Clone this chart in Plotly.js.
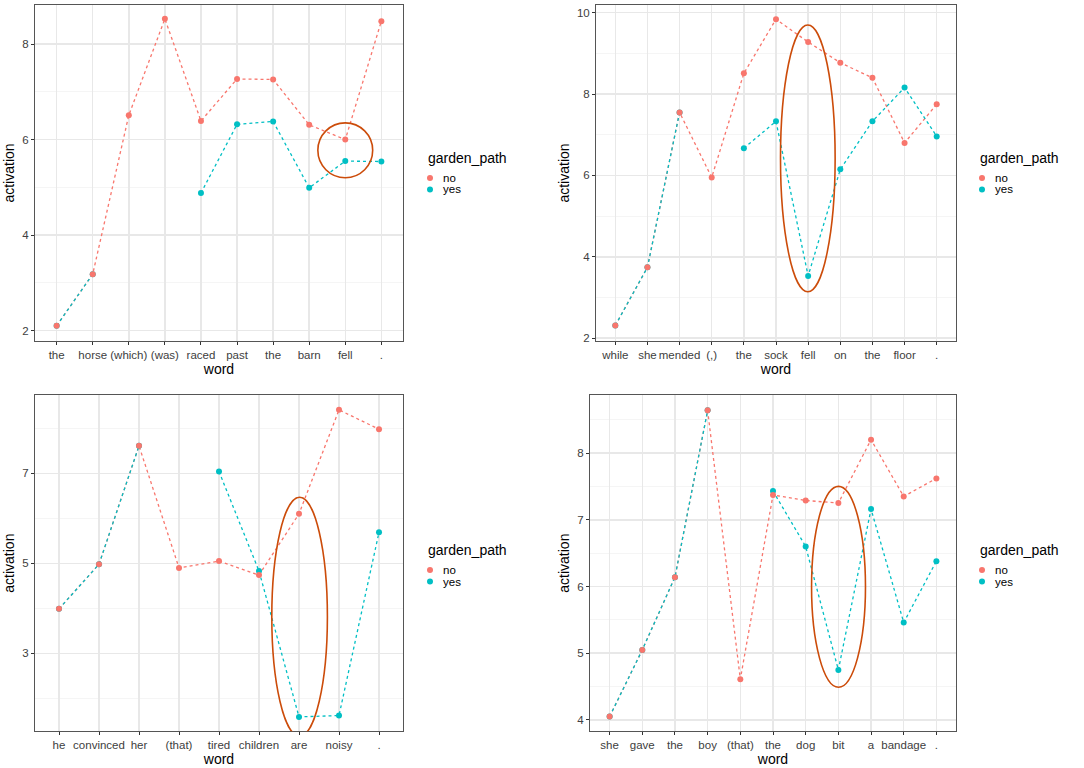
<!DOCTYPE html>
<html>
<head>
<meta charset="utf-8">
<script src="https://cdn.plot.ly/plotly-3.0.1.min.js"></script>
<style>
  html, body { margin: 0; padding: 0; background: #fff; }
  #chart { width: 1084px; height: 768px; }
</style>
</head>
<body>
<div id="chart"></div>
<script>
// sentence 1: the horse raced past the barn fell
const words1 = ["the", "horse", "(which)", "(was)", "raced", "past", "the", "barn", "fell", "."];
const no1  = [2.10, 3.18, 6.51, 8.53, 6.39, 7.27, 7.26, 6.31, 6.00, 8.48];
const yes1 = [2.10, 3.18, null, null, 4.88, 6.32, 6.38, 4.99, 5.55, 5.54];

// sentence 2: while she mended the sock fell on the floor
const words2 = ["while", "she", "mended", "(,)", "the", "sock", "fell", "on", "the", "floor", "."];
const no2  = [2.31, 3.74, 7.55, 5.95, 8.51, 9.84, 9.28, 8.77, 8.40, 6.80, 7.75];
const yes2 = [2.31, 3.74, 7.55, null, 6.67, 7.33, 3.53, 6.15, 7.33, 8.16, 6.96];

// sentence 3: he convinced her tired children are noisy
const words3 = ["he", "convinced", "her", "(that)", "tired", "children", "are", "noisy", "."];
const no3  = [3.99, 4.98, 7.61, 4.90, 5.05, 4.74, 6.10, 8.41, 7.98];
const yes3 = [3.99, 4.98, 7.61, null, 7.04, 4.83, 1.59, 1.62, 5.69];

// sentence 4: she gave the boy the dog bit a bandage
const words4 = ["she", "gave", "the", "boy", "(that)", "the", "dog", "bit", "a", "bandage", "."];
const no4  = [4.05, 5.05, 6.14, 8.64, 4.61, 7.37, 7.29, 7.25, 8.20, 7.35, 7.62];
const yes4 = [4.05, 5.05, 6.14, 8.64, null, 7.43, 6.60, 4.75, 7.16, 5.46, 6.38];

const groups = ["no", "yes"];

const RED = "#F8766D", TEAL = "#00BFC4", RING = "#CC4C0A";
const FONT = "Liberation Sans, Arial, sans-serif";

const panels = [
  { words: words1, no: no1, yes: yes1, xd: [35, 403], yd: [5, 341], yr: [1.78, 8.82], dt: 2, t0: 0,
    ring: [8.24, 9.76, 5.20, 6.35], leg: [426, 158] },
  { words: words2, no: no2, yes: yes2, xd: [596, 956], yd: [5, 341], yr: [1.93, 10.19], dt: 2, t0: 0,
    ring: [6.14, 7.84, 3.14, 9.70], leg: [978, 158] },
  { words: words3, no: no3, yes: yes3, xd: [35, 403], yd: [395, 731.3], yr: [1.27, 8.74], dt: 2, t0: 1,
    ring: [6.32, 7.71, 1.16, 6.47], leg: [426, 550] },
  { words: words4, no: no4, yes: yes4, xd: [590, 956], yd: [395, 731.3], yr: [3.83, 8.87], dt: 1, t0: 0,
    ring: [7.18, 8.83, 4.49, 7.50], leg: [978, 550] }
];

const W = 1084, H = 768;
const px = v => v / W, py = v => 1 - v / H;
const traces = [];
const layout = {
  width: W, height: H,
  margin: { l: 0, r: 0, t: 0, b: 0 },
  paper_bgcolor: "#fff", plot_bgcolor: "#fff",
  font: { family: FONT, color: "#000" },
  showlegend: false,
  shapes: [], annotations: []
};

panels.forEach((p, i) => {
  const n = i + 1;
  const sfx = n === 1 ? "" : String(n);
  const xa = "x" + sfx, ya = "y" + sfx;
  const xs = p.words.map((w, k) => k + 1);

  const line = (ys, c) => ({
    x: xs, y: ys, xaxis: xa, yaxis: ya, type: "scatter", mode: "lines",
    line: { color: c, width: 1.3, dash: "3px,3px" },
    connectgaps: false, hoverinfo: "skip"
  });
  const pts = (ys, c, name) => ({
    x: xs, y: ys, xaxis: xa, yaxis: ya, type: "scatter", mode: "markers",
    marker: { color: c, size: 6 }, name: name
  });
  traces.push(line(p.no, RED), line(p.yes, TEAL), pts(p.yes, TEAL, "yes"), pts(p.no, RED, "no"));

  layout["xaxis" + sfx] = {
    domain: [px(p.xd[0]), px(p.xd[1])], anchor: ya,
    range: [0.4, p.words.length + 0.6],
    tickmode: "array", tickvals: xs, ticktext: p.words,
    tickfont: { size: 11.5, color: "#404040" },
    ticks: "outside", ticklen: 3, tickcolor: "#333", tickwidth: 1,
    showgrid: true, gridcolor: "#E8E8E8", gridwidth: 1.5,
    showline: true, mirror: true, linecolor: "#555", linewidth: 1,
    zeroline: false, automargin: false,
    title: { text: "word", font: { size: 14 }, standoff: 2 }
  };
  layout["yaxis" + sfx] = {
    domain: [py(p.yd[1]), py(p.yd[0])], anchor: xa,
    range: p.yr, dtick: p.dt, tick0: p.t0,
    tickfont: { size: 11.5, color: "#404040" },
    ticks: "outside", ticklen: 3, tickcolor: "#333", tickwidth: 1,
    showgrid: true, gridcolor: "#E8E8E8", gridwidth: 1.5,
    minor: { dtick: p.dt / 2, tick0: p.t0, showgrid: true, gridcolor: "#F2F2F2", gridwidth: 0.8, ticks: "" },
    showline: true, mirror: true, linecolor: "#555", linewidth: 1,
    zeroline: false, automargin: false,
    title: { text: "activation", font: { size: 14 }, standoff: 4 }
  };

  // legend: title plus one key per group
  const [lx, ly] = p.leg;
  layout.annotations.push({
    xref: "paper", yref: "paper", x: px(lx), y: py(ly), xanchor: "left", yanchor: "middle",
    text: "garden_path", showarrow: false, font: { size: 14, color: "#000" }
  });
  groups.forEach((g, k) => {
    const ky = ly + 20 + k * 11.5;
    const c = g === "no" ? RED : TEAL;
    layout.shapes.push({
      type: "circle", xref: "paper", yref: "paper",
      x0: px(lx + 1), x1: px(lx + 7), y0: py(ky + 3), y1: py(ky - 3),
      fillcolor: c, line: { width: 0 }
    });
    layout.annotations.push({
      xref: "paper", yref: "paper", x: px(lx + 15), y: py(ky), xanchor: "left", yanchor: "middle",
      text: g, showarrow: false, font: { size: 11.5, color: "#000" }
    });
  });

  layout.shapes.push({
    type: "circle", xref: xa, yref: ya,
    x0: p.ring[0], x1: p.ring[1], y0: p.ring[2], y1: p.ring[3],
    line: { color: RING, width: 1.6 }, layer: "above"
  });
});

Plotly.newPlot("chart", traces, layout, { displayModeBar: false, staticPlot: true });
</script>
</body>
</html>
